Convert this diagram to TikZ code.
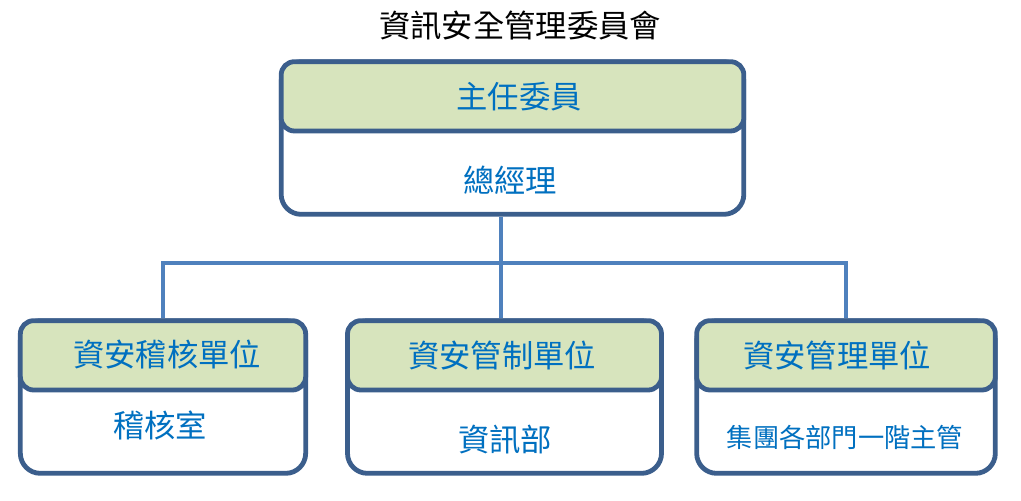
\documentclass[tikz,border=0pt]{standalone}
\usepackage{fontspec}
\newfontfamily\cjk{Noto Sans CJK TC}
\definecolor{frameblue}{RGB}{59,94,140}
\definecolor{lineblue}{RGB}{79,129,189}
\definecolor{headgreen}{RGB}{215,228,189}
\definecolor{textblue}{RGB}{0,112,192}

\begin{document}
\begin{tikzpicture}[x=0.75pt, y=-0.75pt,
  unitbox/.style={draw=frameblue, line width=3.6pt, rounded corners=15pt, fill=white, minimum height=114.5pt, inner sep=0pt},
  unithead/.style={draw=frameblue, line width=3.6pt, rounded corners=10pt, fill=headgreen, minimum height=52pt, anchor=north, inner sep=0pt},
  unitname/.style={text=textblue, font=\cjk\fontsize{23.5}{28}\selectfont},
  link/.style={draw=lineblue, line width=2.6pt}]
  \useasboundingbox (0,0) rectangle (1021,500);

  \node [font=\cjk\fontsize{23.5}{28}\selectfont] (title) at (520,25) {資訊安全管理委員會};

  \node [unitbox, minimum width=347pt] (chair) at (512.5,138) {};
  \node [unithead, minimum width=347pt] (chairhead) at (chair.north) {};
  \node [unitname] (chairtitle) at (519,97) {主任委員};
  \node [unitname] (chairname) at (510,180) {總經理};

  \node [unitbox, minimum width=214pt] (audit) at (163,397) {};
  \node [unithead, minimum width=214pt] (audithead) at (audit.north) {};
  \node [unitname] (audittitle) at (167,355) {資安稽核單位};
  \node [unitname] (auditname) at (160,425) {稽核室};

  \node [unitbox, minimum width=235.5pt] (control) at (504.5,397) {};
  \node [unithead, minimum width=235.5pt] (controlhead) at (control.north) {};
  \node [unitname] (controltitle) at (502,355) {資安管制單位};
  \node [unitname] (controlname) at (505,440) {資訊部};

  \node [unitbox, minimum width=224pt] (mgmt) at (846,397) {};
  \node [unithead, minimum width=224pt] (mgmthead) at (mgmt.north) {};
  \node [unitname] (mgmttitle) at (837,355) {資安管理單位};
  \node [unitname, font=\cjk\fontsize{19.7}{24}\selectfont] (mgmtname) at (845,437) {集團各部門一階主管};

  \coordinate (hub) at (501,263);
  \draw [link] (chair.south -| hub) -- (hub);
  \draw [link] (audit.north) |- (hub) -| (mgmt.north);
  \draw [link] (hub) -- (hub |- control.north);
\end{tikzpicture}
\end{document}
